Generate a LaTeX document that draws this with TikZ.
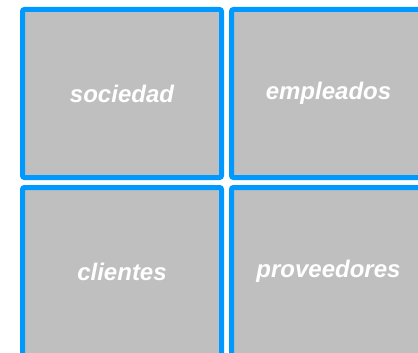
\documentclass[tikz,border=0pt]{standalone}
\usepackage{fontspec}
\setmainfont{Liberation Sans}
\usepackage{xcolor}
\usepackage{tikz}
\usetikzlibrary{positioning}

\definecolor{cellblue}{RGB}{0,153,255}
\definecolor{cellgray}{RGB}{191,191,191}

\begin{document}
\begin{tikzpicture}[
    x=1pt, y=-1pt,
    cell/.style={draw=cellblue, fill=cellgray, line width=5pt, rounded corners=2pt,
                 minimum width=199pt, minimum height=168pt, inner sep=0pt,
                 text=white, font=\fontsize{24}{28}\selectfont\bfseries\itshape},
    rightcell/.style={cell, minimum width=194pt},
]
\useasboundingbox (0,0) rectangle (418,353);
\clip (0,0) rectangle (418,353);

% Top row
\node[cell] (sociedad) at (122,93.5) {sociedad};
\node[rightcell, right=5pt of sociedad] (empleados) {empleados};

% Bottom row
\node[cell, below=5pt of sociedad] (clientes) {clientes};
\node[rightcell, right=5pt of clientes] (proveedores) {proveedores};

\end{tikzpicture}
\end{document}
